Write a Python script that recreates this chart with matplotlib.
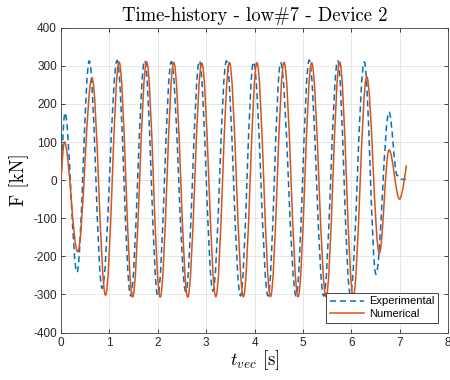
import matplotlib
matplotlib.use("Agg")
import matplotlib.pyplot as plt
from matplotlib.path import Path
from matplotlib.patches import PathPatch
from matplotlib.lines import Line2D

# peaks / troughs (time [s], force [kN])
t_exp = [0.0, 0.08, 0.33, 0.585, 0.85, 1.16, 1.44, 1.73, 2.00, 2.28, 2.58,
         2.86, 3.14, 3.42, 3.71, 3.98, 4.28, 4.54, 4.86, 5.13, 5.43, 5.72,
         5.98, 6.27, 6.51, 6.78, 6.95, 7.05, 7.13]
f_exp = [0, 177, -242, 313, -284, 314, -304, 314, -303, 311, -293,
         313, -291, 313, -304, 310, -304, 308, -304, 315, -304, 313,
         -300, 310, -247, 179, 12, 2, 3]

t_num = [0.0, 0.07, 0.345, 0.64, 0.92, 1.20, 1.48, 1.77, 2.05, 2.33, 2.62,
         2.91, 3.20, 3.48, 3.77, 4.05, 4.33, 4.61, 4.90, 5.18, 5.48, 5.76,
         6.04, 6.32, 6.58, 6.78, 7.00, 7.14]
f_num = [0, 100, -188, 268, -302, 310, -307, 310, -307, 309, -307,
         307, -306, 309, -306, 308, -306, 309, -306, 308, -306, 310,
         -305, 271, -192, 79, -50, 39]

x_ticks = [0, 1, 2, 3, 4, 5, 6, 7, 8]
y_ticks = [-400, -300, -200, -100, 0, 100, 200, 300, 400]

blue = "#0072BD"
orange = "#D95319"


def smooth_path(t, f, h=0.36):
    # cubic segments with flat tangents at each extremum
    verts = [(t[0], f[0])]
    codes = [Path.MOVETO]
    n = len(t)
    for i in range(1, n):
        dt = t[i] - t[i - 1]
        c1x = t[i - 1] + h * dt if i > 1 else t[i - 1]
        c2x = t[i] - h * dt if i < n - 1 else t[i]
        verts += [(c1x, f[i - 1]), (c2x, f[i]), (t[i], f[i])]
        codes += [Path.CURVE4] * 3
    return Path(verts, codes)


plt.rcParams["mathtext.fontset"] = "cm"
plt.rcParams["axes.unicode_minus"] = False
plt.rcParams["font.family"] = ["Liberation Sans", "DejaVu Sans"]
serif = ["cmr10", "DejaVu Serif"]

fig = plt.figure(figsize=(4.5, 3.8), dpi=100)
ax = fig.add_axes([0.1356, 0.125, 0.86, 0.802])

ax.add_patch(PathPatch(smooth_path(t_exp, f_exp), fill=False, edgecolor=blue,
                       lw=1.1, ls=(0, (4.0, 2.5)), zorder=3))
ax.add_patch(PathPatch(smooth_path(t_num, f_num), fill=False, edgecolor=orange,
                       lw=1.1, zorder=4))

ax.set_xlim(0, 8)
ax.set_ylim(-400, 400)
ax.set_xticks(x_ticks)
ax.set_yticks(y_ticks)
ax.grid(True, color="#e3e3e3", lw=0.6)
ax.set_axisbelow(True)
ax.tick_params(direction="in", length=3, width=0.6, colors="#262626",
               labelsize=8.5, top=True, right=True, pad=3)
for s in ax.spines.values():
    s.set_color("#404040")
    s.set_linewidth(0.6)

ax.set_title("Time-history - low#7 - Device 2", fontfamily=serif,
             fontsize=13.5, pad=5)
ax.set_xlabel(r"$t_{vec}$ [s]", fontfamily=serif, fontsize=13.5, labelpad=0)
ax.set_ylabel("F [kN]", fontfamily=serif, fontsize=13.5, labelpad=3)

handles = [Line2D([], [], color=blue, lw=1.1, ls=(0, (4.0, 2.5))),
           Line2D([], [], color=orange, lw=1.1)]
leg = ax.legend(handles, ["Experimental", "Numerical"], loc="lower right",
                fontsize=8, handlelength=3.1, fancybox=False, framealpha=1,
                edgecolor="#262626", borderaxespad=0.9, borderpad=0.35,
                labelspacing=0.2, handletextpad=0.4)
leg.get_frame().set_linewidth(0.6)

fig.savefig("out.png", dpi=100)
